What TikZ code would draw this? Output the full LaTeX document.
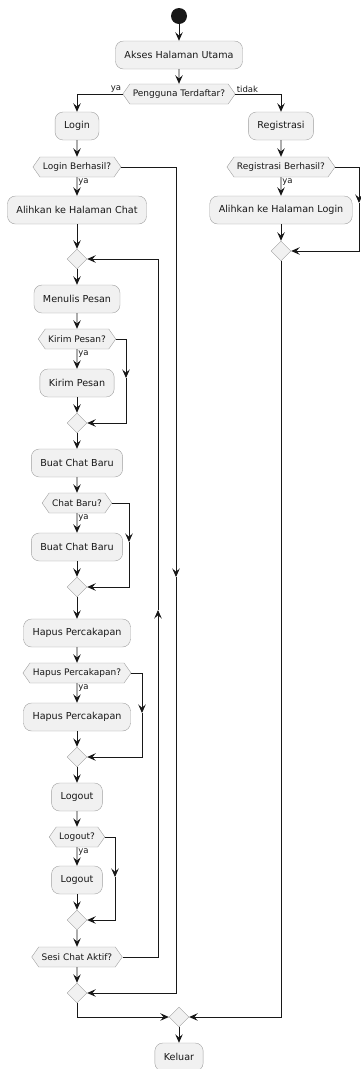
\documentclass[tikz,border=0pt]{standalone}
\usepackage{fontspec}
\setmainfont{DejaVu Sans}
\usepackage{xcolor}
\usetikzlibrary{shapes.geometric, shapes.symbols, arrows.meta, positioning}

\definecolor{boxfill}{HTML}{F1F1F1}
\definecolor{boxline}{HTML}{A0A0A0}
\definecolor{ink}{HTML}{181818}

\begin{document}
\begin{tikzpicture}[x=1pt, y=-1pt,
    act/.style={draw=boxline, fill=boxfill, rounded corners=8pt, minimum height=28pt,
        inner xsep=9pt, font=\fontsize{9.6}{11}\selectfont, text=ink},
    ask/.style={draw=boxline, fill=boxfill, signal, signal to=east and west,
        signal pointer angle=110, minimum height=20pt, inner xsep=3pt, inner ysep=2pt,
        font=\fontsize{9}{10}\selectfont, text=ink},
    merge/.style={draw=boxline, fill=boxfill, diamond, minimum width=20pt,
        minimum height=20pt, inner sep=0pt},
    flow/.style={draw=ink, line width=0.9pt, -{Stealth[length=8.5pt, width=7.5pt, inset=3.2pt]}},
    lbl/.style={font=\fontsize{8.5}{9}\selectfont, text=ink, inner sep=1pt}]
    \useasboundingbox (0,0) rectangle (361,1069);

    % start
    \node[circle, fill=ink, minimum size=16pt, inner sep=0pt] (start) at (179,16) {};
    \node[act] (akses) at (179,55) {Akses Halaman Utama};
    \node[ask] (pengguna) at (179,94) {Pengguna Terdaftar?};

    % left branch
    \node[act] (login) at (77,126) {Login};
    \node[ask] (loginQ) at (77,167) {Login Berhasil?};
    \node[act] (chat) at (77,210) {Alihkan ke Halaman Chat};
    \node[merge] (loopM) at (77,259) {};
    \node[act] (tulis) at (77,299) {Menulis Pesan};
    \node[ask] (kirimQ) at (77,339) {Kirim Pesan?};
    \node[act] (kirim) at (77,383) {Kirim Pesan};
    \node[merge] (kirimM) at (77,423) {};
    \node[act] (buat) at (77,463) {Buat Chat Baru};
    \node[ask] (baruQ) at (77,503) {Chat Baru?};
    \node[act] (baru) at (77,547) {Buat Chat Baru};
    \node[merge] (baruM) at (77,587) {};
    \node[act] (hapus) at (77,633) {Hapus Percakapan};
    \node[ask] (hapusQ) at (77,673) {Hapus Percakapan?};
    \node[act] (hapusB) at (77,717) {Hapus Percakapan};
    \node[merge] (hapusM) at (77,757) {};
    \node[act] (logout) at (77,797) {Logout};
    \node[ask] (logoutQ) at (77,837) {Logout?};
    \node[act] (logoutB) at (77,880) {Logout};
    \node[merge] (logoutM) at (77,920) {};
    \node[ask] (sesiQ) at (77,957) {Sesi Chat Aktif?};
    \node[merge] (endM) at (77,993) {};

    % right branch
    \node[act] (registrasi) at (281,126) {Registrasi};
    \node[ask] (regQ) at (281,167) {Registrasi Berhasil?};
    \node[act] (alihLogin) at (281,210) {Alihkan ke Halaman Login};
    \node[merge] (regM) at (281,251) {};

    % end
    \node[merge] (allM) at (179,1017) {};
    \node[act] (keluar) at (179,1057) {Keluar};

    % arrow points on the side lines
    \coordinate (loginArr) at (176,577);
    \coordinate (regArr) at (359,203);
    \coordinate (kirimArr) at (126,378);
    \coordinate (baruArr) at (129,542);
    \coordinate (hapusArr) at (142,713);
    \coordinate (logoutArr) at (115,877);
    \coordinate (loopArr) at (158,610);

    % main flow
    \draw[flow] (start) -- (akses);
    \draw[flow] (akses) -- (pengguna);
    \draw[flow] (pengguna.west) -| node[lbl, pos=0, above left] {ya} (login.north);
    \draw[flow] (pengguna.east) -| node[lbl, pos=0, above right] {tidak} (registrasi.north);

    % login
    \draw[flow] (login) -- (loginQ);
    \draw[flow] (loginQ) -- node[lbl, pos=0.25, right] {ya} (chat);
    \draw[flow] (loginQ.east) -| (loginArr);
    \draw[flow] (loginArr) |- (endM.east);
    \draw[flow] (chat) -- (loopM);

    % chat loop
    \draw[flow] (loopM) -- (tulis);
    \draw[flow] (tulis) -- (kirimQ);
    \draw[flow] (kirimQ) -- node[lbl, pos=0.25, right] {ya} (kirim);
    \draw[flow] (kirimQ.east) -| (kirimArr);
    \draw[flow] (kirimArr) |- (kirimM.east);
    \draw[flow] (kirim) -- (kirimM);
    \draw[flow] (kirimM) -- (buat);
    \draw[flow] (buat) -- (baruQ);
    \draw[flow] (baruQ) -- node[lbl, pos=0.25, right] {ya} (baru);
    \draw[flow] (baruQ.east) -| (baruArr);
    \draw[flow] (baruArr) |- (baruM.east);
    \draw[flow] (baru) -- (baruM);
    \draw[flow] (baruM) -- (hapus);
    \draw[flow] (hapus) -- (hapusQ);
    \draw[flow] (hapusQ) -- node[lbl, pos=0.25, right] {ya} (hapusB);
    \draw[flow] (hapusQ.east) -| (hapusArr);
    \draw[flow] (hapusArr) |- (hapusM.east);
    \draw[flow] (hapusB) -- (hapusM);
    \draw[flow] (hapusM) -- (logout);
    \draw[flow] (logout) -- (logoutQ);
    \draw[flow] (logoutQ) -- node[lbl, pos=0.25, right] {ya} (logoutB);
    \draw[flow] (logoutQ.east) -| (logoutArr);
    \draw[flow] (logoutArr) |- (logoutM.east);
    \draw[flow] (logoutB) -- (logoutM);
    \draw[flow] (logoutM) -- (sesiQ);
    \draw[flow] (sesiQ.east) -| (loopArr);
    \draw[flow] (loopArr) |- (loopM.east);
    \draw[flow] (sesiQ) -- (endM);

    % registrasi
    \draw[flow] (registrasi) -- (regQ);
    \draw[flow] (regQ) -- node[lbl, pos=0.25, right] {ya} (alihLogin);
    \draw[flow] (regQ.east) -| (regArr);
    \draw[flow] (regArr) |- (regM.east);
    \draw[flow] (alihLogin) -- (regM);

    % keluar
    \draw[flow] (endM.south) |- (allM.west);
    \draw[flow] (regM.south) |- (allM.east);
    \draw[flow] (allM) -- (keluar);
\end{tikzpicture}
\end{document}
